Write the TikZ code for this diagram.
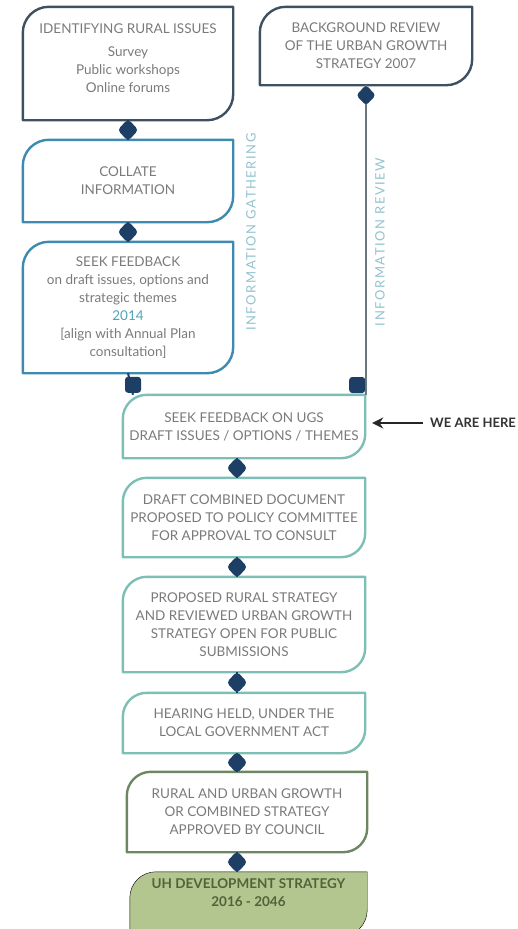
\documentclass[tikz,border=0pt]{standalone}
\usepackage{fontspec}
\setmainfont{Lato}
\usetikzlibrary{shapes.geometric,arrows.meta,backgrounds}
\definecolor{slate}{HTML}{3E5163}
\definecolor{bluebox}{HTML}{3E8AB0}
\definecolor{tealbox}{HTML}{7DBFB5}
\definecolor{greenbox}{HTML}{6E8763}
\definecolor{greenfill}{HTML}{B4C690}
\definecolor{navy}{HTML}{1D3F66}
\definecolor{txtgray}{HTML}{7A7A7A}
\definecolor{vtext}{HTML}{92C3CF}
\definecolor{yearteal}{HTML}{4FA3B5}
\definecolor{linegray}{HTML}{6C7780}
\definecolor{greentext}{HTML}{52633A}
\newcommand\leafdraw[3]{\draw[#3] ([yshift=-#2]#1.north west) arc[start angle=180,end angle=90,radius=#2] -- (#1.north east) -- ([yshift=#2]#1.south east) arc[start angle=0,end angle=-90,radius=#2] -- (#1.south west) -- cycle;}
\tikzset{
  box/.style={inner sep=0pt, align=center, text=txtgray, font=\fontsize{13.5}{18}\selectfont},
  txt/.style={inner sep=0pt, align=center, text=txtgray, font=\fontsize{13.5}{18}\selectfont},
  outline/.style={line width=2.4pt, draw=#1, line join=round},
  dmd/.style={diamond, fill=navy, draw=navy, minimum width=19pt, minimum height=20pt, inner sep=0pt, rounded corners=3pt},
  sq/.style={rectangle, fill=navy, minimum size=16pt, inner sep=0pt, rounded corners=3pt},
  conn/.style={navy, line width=2pt},
  vtxt/.style={text=vtext, font=\fontsize{13}{15}\selectfont\addfontfeatures{LetterSpace=12}, inner sep=0pt},
}
\begin{document}
\begin{tikzpicture}[x=1pt,y=1pt]
\useasboundingbox (0,0) rectangle (518,-929);
\coordinate (spine) at (237,0);
% boxes
\node[box, minimum width=210pt, minimum height=113pt] (b1) at (128,-63.5) {};
\node[txt] (b1t) at ([yshift=5pt]b1.center) {IDENTIFYING RURAL ISSUES\\[5pt] Survey\\ Public workshops\\ Online forums};
\node[box, minimum width=212pt, minimum height=78pt] (b2) at (366,-46) {BACKGROUND REVIEW\\ OF THE URBAN GROWTH\\ STRATEGY 2007};
\node[box, minimum width=210pt, minimum height=82pt] (b3) at (128,-181) {COLLATE\\ INFORMATION};
\node[box, minimum width=210pt, minimum height=131pt] (b4) at (128,-307.5) {SEEK FEEDBACK\\ on draft issues, options and\\ strategic themes\\ \textcolor{yearteal}{2014}\\ {[}align with Annual Plan\\ consultation]};
\node[box, minimum width=242pt, minimum height=63pt] (b5) at (244,-426.5) {SEEK FEEDBACK ON UGS\\ DRAFT ISSUES / OPTIONS / THEMES};
\node[box, minimum width=242pt, minimum height=79pt] (b6) at (244,-517.5) {DRAFT COMBINED DOCUMENT\\ PROPOSED TO POLICY COMMITTEE\\ FOR APPROVAL TO CONSULT};
\node[box, minimum width=242pt, minimum height=95pt] (b7) at (244,-624.5) {PROPOSED RURAL STRATEGY\\ AND REVIEWED URBAN GROWTH\\ STRATEGY OPEN FOR PUBLIC\\ SUBMISSIONS};
\node[box, minimum width=242pt, minimum height=60pt] (b8) at (244,-723) {HEARING HELD, UNDER THE\\ LOCAL GOVERNMENT ACT};
\node[box, minimum width=240pt, minimum height=80pt] (b9) at (247,-812) {RURAL AND URBAN GROWTH\\ OR COMBINED STRATEGY\\ APPROVED BY COUNCIL};
\node[box, minimum width=237pt, minimum height=64pt] (b10) at (248.5,-904) {};
\node[txt, text=greentext, font=\fontsize{13.5}{18}\selectfont\bfseries] (b10t) at ([yshift=11pt]b10.center) {UH DEVELOPMENT STRATEGY\\ 2016 - 2046};
% shapes
\begin{scope}[on background layer]
\leafdraw{b1}{26pt}{outline=slate}
\leafdraw{b2}{26pt}{outline=slate}
\leafdraw{b3}{26pt}{outline=bluebox}
\leafdraw{b4}{26pt}{outline=bluebox}
\leafdraw{b5}{24pt}{outline=tealbox}
\leafdraw{b6}{24pt}{outline=tealbox}
\leafdraw{b7}{24pt}{outline=tealbox}
\leafdraw{b8}{24pt}{outline=tealbox}
\leafdraw{b9}{24pt}{outline=greenbox}
\leafdraw{b10}{26pt}{fill=greenfill}
\end{scope}
% connectors
\draw[conn] (b1.south) -- node[dmd]{} (b3.north);
\draw[conn] (b3.south) -- node[dmd]{} (b4.north);
\draw[linegray, line width=1.6pt] (b2.south) -- (b2.south |- b5.north) node[sq, anchor=south east, yshift=1pt] (sqr) {};
\node[dmd] (d2) at ([yshift=-10pt]b2.south) {};
\draw[conn] (b4.south) -- ([xshift=5pt]b4.south |- b5.north) node[sq, anchor=south, yshift=1pt] (sql) {};
\draw[conn] (b5.south -| spine) -- node[dmd]{} (b6.north -| spine);
\draw[conn] (b6.south -| spine) -- node[dmd]{} (b7.north -| spine);
\draw[conn] (b7.south -| spine) -- node[dmd]{} (b8.north -| spine);
\draw[conn] (b8.south -| spine) -- node[dmd]{} (b9.north -| spine);
\draw[conn] (b9.south -| spine) -- node[dmd]{} (b10.north -| spine);
% side labels
\node[vtxt, rotate=90] (vg) at (251,-232) {INFORMATION GATHERING};
\node[vtxt, rotate=90] (vr) at (380,-242) {INFORMATION REVIEW};
\node[anchor=west, inner sep=0pt, text=black!80, font=\fontsize{13}{15}\selectfont\bfseries] (here) at (430,-423) {WE ARE HERE};
\draw[black!85, line width=2.4pt, -{Stealth[length=11pt,width=11pt]}] ([xshift=-7pt]here.west) -- ([xshift=7pt]here.west -| b5.east);
\end{tikzpicture}
\end{document}
